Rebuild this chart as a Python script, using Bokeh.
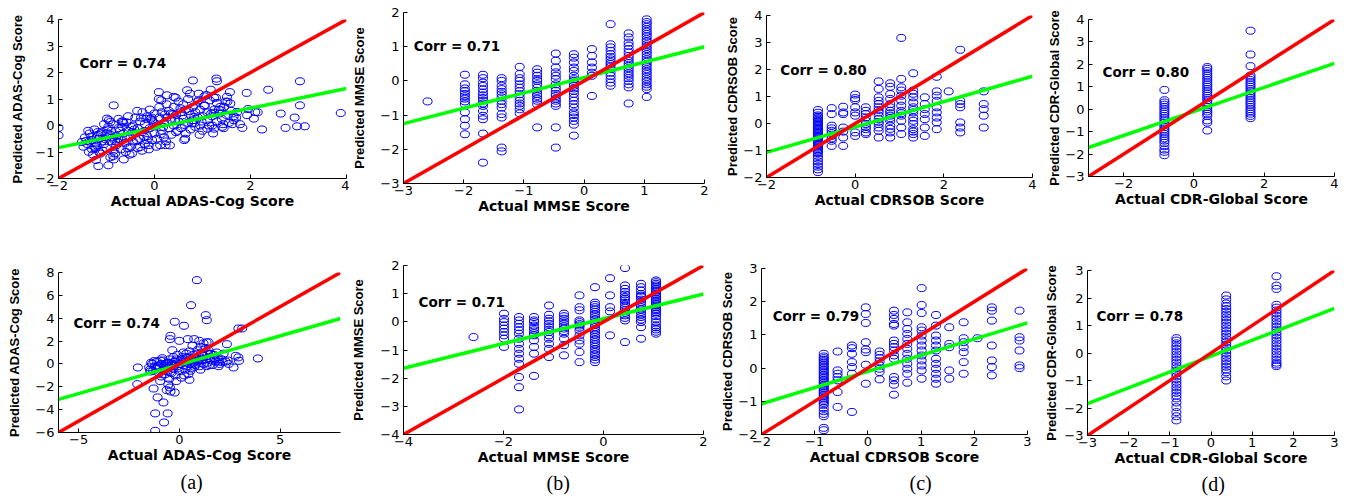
from bokeh.plotting import figure
from bokeh.layouts import column, row
from bokeh.models import FixedTicker, Label, Title
from bokeh.embed import file_html
from bokeh.resources import INLINE

# ---------------- data ----------------
# (a) top: ADAS-Cog
adas1_x = [-2.0, -2.0, 3.88, 3.03, 3.03, 2.97, 3.13, 2.92, 2.73, 2.63, 2.37, 2.24, 1.92, 1.93, 2.07, 2.1, 1.83,
           1.29, 1.3, 0.8, 1.17, 1.57, 1.51, 0.09, 0.09, 0.26, 0.4, 0.12, 0.23, -0.85, -0.99, -0.92, -1.17, -0.96,
           -0.85, -0.64, -0.47, -0.82, -1.37, -1.23, -1.13, -1.51, -0.3, -0.12, 0.68, 0.92, 1.1, 1.24, 1.41, 1.65,
           1.72, 1.58, 1.37,
           -1.45, -1.4, -1.35, -1.3, -1.3, -1.25, -1.2, -1.2, -1.15, -1.1, -1.1, -1.05, -1.0, -1.0, -0.95, -1.35,
           -1.25, -1.15, -1.05, -0.98,
           -0.9, -0.9, -0.85, -0.85, -0.8, -0.8, -0.75, -0.75, -0.7, -0.7, -0.65, -0.65, -0.6, -0.6, -0.55, -0.55,
           -0.5, -0.5, -0.88, -0.72,
           -0.45, -0.45, -0.4, -0.4, -0.35, -0.35, -0.3, -0.3, -0.25, -0.25, -0.2, -0.2, -0.15, -0.15, -0.1, -0.1,
           -0.05, -0.05, 0.0, 0.0,
           0.05, 0.05, 0.1, 0.1, 0.15, 0.15, 0.2, 0.2, 0.25, 0.25, 0.3, 0.3, 0.35, 0.35, 0.4, 0.4, 0.45, 0.45, 0.5, 0.5,
           0.55, 0.55, 0.6, 0.6, 0.65, 0.65, 0.7, 0.7, 0.75, 0.75, 0.8, 0.8, 0.85, 0.85, 0.9, 0.9, 0.95, 0.95, 1.0, 1.0,
           1.05, 1.1, 1.1, 1.15, 1.2, 1.2, 1.25, 1.3, 1.3, 1.35, 1.4, 1.45, 1.5, 1.55, 1.6, 1.65,
           -1.42, -1.32, -1.22, -1.12, -1.02, -0.92, -0.82, -0.62, -0.42, -0.22, -0.02, 0.18, 0.38, 0.58, 0.78, 0.98,
           1.18, 1.38, -0.67, -0.37, -0.17, 0.13, 0.43, 0.63, 0.83, 1.03, 1.23, 1.43, -0.78, -0.58,
           -1.18, -0.98, -0.68, -0.48, -0.28, -0.08, 0.22, 0.48, 0.72, 1.08, 1.28, 1.48, 1.7, 1.78, 1.95, 2.15,
           -1.48, -1.38, -1.28, -1.18, -1.08, -0.96, -0.86, -0.76, -0.66, -0.56, -0.46, -0.36, -0.26, -0.16, -0.06,
           0.04, 0.14, 0.24, 0.34, 0.44, 0.54, 0.64, 0.74, 0.84, 0.94, 1.04, 1.14, 1.24, 1.34, 1.44, -1.22, -0.92,
           -0.52, -0.12, 0.32, 0.62, 0.92, 1.22, 1.52, 1.62]
adas1_y = [-0.09, -0.37, 0.47, 1.67, 0.76, -0.03, -0.03, 0.3, -0.09, 0.45, 1.35, -0.15, 1.23, 0.39, 0.26, 0.51, -0.09,
           1.77, 1.67, 1.7, 1.35, 1.26, 1.08, 1.26, 1.0, 1.14, 1.08, -0.74, -0.74, 0.76, 0.26, 0.13, -1.53, -1.5,
           -1.28, -1.28, -1.06, -1.06, -0.99, -0.87, -1.06, -0.62, -0.81, -0.74, 1.33, 0.95, -0.12, -0.12, -0.05, 0.2,
           0.51, 0.83, 0.7,
           -0.45, -0.7, -0.3, -0.9, -0.55, -0.15, -0.75, -0.4, -1.0, -0.6, -0.25, 0.05, -0.85, -0.45, 0.2, -0.6,
           -0.8, -0.5, -0.7, -0.3,
           -0.6, -0.2, -0.95, 0.05, -0.4, -0.75, -0.1, 0.25, -0.55, -0.9, -0.3, 0.1, -0.65, -1.0, -0.2, 0.35,
           -0.45, -0.8, -0.45, -0.2,
           0.0, -0.6, -0.3, 0.3, -0.85, -0.1, -0.5, 0.15, 0.5, -0.25, -0.7, 0.05, -0.4, 0.35, -0.1, 0.6,
           -0.55, 0.2, -0.3, 0.45,
           0.0, -0.5, 0.3, 0.7, -0.2, 0.5, 0.1, -0.45, 0.8, 0.3, -0.1, 0.55, 0.2, -0.35, 0.7, 0.0, 0.4, -0.25, 0.9, 0.15,
           -0.1, 0.5, 0.25, 0.8, -0.3, 0.6, 0.1, 1.0, 0.4, -0.15, 0.7, 0.2, -0.05, 0.5, 0.9, 0.3, 0.0, 0.6, 0.35, -0.2,
           0.75, 0.2, 0.5, 0.95, 0.35, 0.0, 0.6, 0.85, 0.15, 0.45, 0.25, 0.7, 0.4, 0.1, 0.55, 0.35,
           -0.58, -0.42, -0.68, -0.3, -0.52, -0.35, -0.58, -0.45, -0.15, -0.42, 0.12, -0.05, 0.42, 0.38, 0.08, 0.15,
           0.45, 0.58, -0.05, -0.55, 0.25, -0.32, 0.22, 0.02, 0.32, 0.75, 0.48, 0.05, -0.62, 0.12,
           -0.25, -0.15, 0.15, -0.05, 0.3, 0.25, 0.42, -0.2, 0.55, 1.15, 1.05, 0.9, 0.3, 0.05, 0.62, 0.5,
           -0.8, -0.2, -1.1, -0.35, -0.95, -0.05, -1.15, -0.5, 0.15, -0.85, -0.25, 0.55, -0.95, -0.55, 0.3,
           -0.8, 0.95, -0.6, 0.45, 1.05, 0.65, -0.5, 1.2, 0.1, -0.35, 1.1, 0.0, 1.05, 0.6, -0.1, -1.3, -1.2,
           -1.1, -0.9, -0.75, -0.55, 1.2, -0.3, 0.9, 0.05]

# (a) bottom: ADAS-Cog
adas2_x = [0.87, 0.58, 1.31, 1.36, -0.23, 0.23, -0.44, -0.47, 0.0, 0.42, 0.74, 0.99, 2.36, 2.8, 2.96, 2.93, 2.93,
           3.12, 3.9, 2.69, -2.06, -2.09, -1.28, -1.08, -0.79, -1.2, -0.76, -0.58, -1.2, -0.63, -0.44, -0.23, -0.47,
           0.5, -1.44,
           -1.5, -1.4, -1.3, -1.2, -1.1, -1.0, -1.0, -0.9, -0.9, -0.8, -0.8, -0.7, -0.7, -0.6, -0.6, -0.5, -0.5, -0.5,
           -0.4, -0.4, -0.3, -0.3, -0.2, -0.2, -0.1, -0.1, 0.0, 0.0, 0.1, 0.1, 0.2, 0.2, 0.3, 0.3, 0.4, 0.4, 0.5, 0.5,
           0.6, 0.6, 0.7, 0.7, 0.8, 0.8, 0.9, 0.9, 1.0, 1.0, 1.1, 1.1, 1.2, 1.2, 1.3, 1.3, 1.4, 1.4, 1.5, 1.5, 1.6,
           1.7, 1.8, 1.9, 2.0, 2.1, 2.2, 2.3, 1.65, 0.05, -0.25, 0.35, 0.75, -0.65, 1.05, 1.35, 1.2, 1.45,
           -1.35, -1.15, -0.95, -0.75, -0.55, -0.35, -0.15, 0.15, 0.45, 0.65, 0.85, 1.15, 1.55, 1.75, 1.95, 2.45,
           -1.45, -1.25, -1.05, -0.85, -0.65, -0.45, -0.25, -0.05, 0.15, 0.35, 0.55, 0.75, 0.95, 1.15, 1.35, 1.55,
           1.75, 1.95, 2.15, 2.4, -0.95, -0.55, -0.15, 0.25, 0.65, 1.05, 1.45, 1.85, -0.35, 0.45]
adas2_y = [7.33, 5.14, 4.27, 3.83, 3.69, 3.34, 2.46, 2.17, 2.02, 2.17, 2.17, 2.02, 1.73, 0.71, 0.27, 0.57, 3.1,
           3.1, 0.48, -0.31, -0.31, -1.77, -2.15, -2.93, -3.37, -4.33, -5.12, -4.33, -5.85, -2.29, -2.41, -2.5, -2.06,
           -1.39, -0.66,
           -0.3, 0.1, -0.6, -0.2, 0.2, -0.8, -0.4, 0.0, -1.1, -0.5, 0.3, -0.2, -0.9, 0.1, -0.6, -1.3, -0.3, 0.4,
           0.0, -0.8, -0.4, 0.6, -1.0, 0.2, -0.2, 0.8, 0.0, -0.6, 0.4, -1.2, -0.1, 1.0, 0.2, -0.5, 0.6, -0.2, 0.0, 1.1,
           0.3, -0.4, 0.8, 0.1, -0.1, 0.5, 1.2, 0.2, 0.6, -0.2, 0.3, 1.0, 0.0, 0.7, 1.4, 0.4, 0.1, 0.9, 0.5, -0.1, 0.3,
           0.8, 0.2, 0.6, 0.0, 0.4, 0.9, 0.2, -0.1, 0.3, -0.15, 0.9, 0.45, -0.35, 1.5, 1.9, 1.8, 1.9,
           0.0, -0.4, 0.3, -0.6, 0.1, -0.1, 0.4, 0.6, 0.3, 0.0, 0.9, 0.4, 0.9, 0.4, 0.2, 0.0,
           -0.5, 0.25, -0.15, 0.5, 0.0, -0.7, 0.2, -0.35, 0.15, 0.5, -0.6, -0.25, 0.3, 0.75, -0.2, 0.85,
           0.5, -0.2, 0.15, 0.3, -1.5, -1.8, -1.5, -1.0, 1.6, -0.5, 1.2, 1.0, 1.2, -0.9]

# (b) top: MMSE (columns)
mmse1_cols = [-2.6, -1.98, -1.68, -1.37, -1.07, -0.78, -0.47, -0.17, 0.13, 0.44, 0.74, 1.04]
mmse1_vals = [
    [-0.6],
    [0.18, -0.1, -0.22, -0.3, -0.38, -0.45, -0.52, -0.6, -0.68, -0.92, -1.12, -1.31, -1.56],
    [0.18, 0.08, -0.05, -0.15, -0.25, -0.34, -0.42, -0.5, -0.58, -0.66, -0.73, -0.88, -1.02, -1.12, -1.54, -2.39],
    [0.08, 0.0, -0.14, -0.24, -0.32, -0.39, -0.48, -0.58, -0.68, -0.78, -0.97, -1.07, -1.95, -2.06],
    [0.41, 0.2, 0.08, 0.0, -0.1, -0.2, -0.3, -0.39, -0.49, -0.58, -0.66, -0.73, -0.83, -0.95],
    [0.34, 0.24, 0.15, 0.05, 0.0, -0.1, -0.2, -0.29, -0.38, -0.44, -0.52, -0.58, -0.68, -1.36],
    [0.8, 0.59, 0.39, 0.25, 0.15, 0.05, -0.1, -0.2, -0.29, -0.38, -0.44, -0.52, -0.58, -0.66, -0.73, -1.36, -1.95],
    [0.78, 0.68, 0.54, 0.39, 0.29, 0.15, 0.05, 0.0, -0.08, -0.14, -0.22, -0.29, -0.38, -0.49, -0.58, -0.68, -0.78,
     -0.92, -1.0, -1.07, -1.17, -1.28, -1.6],
    [0.93, 0.73, 0.54, 0.39, 0.24, 0.15, -0.44],
    [1.66, 1.07, 0.98, 0.88, 0.78, 0.7, 0.63, 0.55, 0.49, 0.42, 0.34, 0.24, 0.15, 0.05, -0.05, -0.14],
    [1.39, 1.27, 1.12, 1.03, 0.93, 0.83, 0.73, 0.66, 0.59, 0.52, 0.44, 0.37, 0.29, 0.22, 0.15, 0.08, 0.0, -0.1,
     -0.19, -0.66],
    [1.8, 1.72, 1.66, 1.58, 1.51, 1.44, 1.37, 1.3, 1.22, 1.15, 1.07, 1.0, 0.93, 0.85, 0.78, 0.7, 0.63, 0.56, 0.49,
     0.42, 0.34, 0.27, 0.2, 0.12, 0.05, -0.02, -0.1, -0.17, -0.24, -0.47],
]

# (b) bottom: MMSE (columns)
mmse2_cols = [-2.6, -1.99, -1.69, -1.39, -1.09, -0.79, -0.48, -0.17, 0.13, 0.43, 0.75, 1.05]
mmse2_vals = [
    [-0.54],
    [0.29, 0.1, -0.01, -0.13, -0.24, -0.36, -0.48, -0.6, -0.89],
    [0.17, 0.05, -0.07, -0.19, -0.3, -0.42, -0.6, -0.78, -0.96, -1.13, -1.31, -1.49, -1.96, -2.32, -3.11],
    [0.17, 0.05, -0.01, -0.13, -0.22, -0.3, -0.4, -0.48, -0.66, -0.89, -1.13, -1.92],
    [0.58, 0.25, 0.11, 0.02, -0.07, -0.19, -0.28, -0.36, -0.48, -0.6, -0.78, -0.96, -1.25],
    [0.29, 0.2, 0.11, 0.02, -0.07, -0.16, -0.24, -0.33, -0.42, -0.6, -0.83, -1.19],
    [0.94, 0.52, 0.41, 0.05, -0.01, -0.08, -0.13, -0.2, -0.3, -0.48, -0.66, -0.78, -1.07, -1.43],
    [1.23, 0.68, 0.6, 0.52, 0.44, 0.35, 0.26, 0.17, 0.08, -0.01, -0.1, -0.19, -0.28, -0.36, -0.45, -0.54, -0.63,
     -0.72, -0.8, -0.89, -0.98, -1.07, -1.16, -1.25, -1.34, -1.43],
    [1.55, 0.94, 0.52, 0.37, -0.48],
    [1.91, 1.29, 1.17, 1.06, 0.97, 0.88, 0.82, 0.76, 0.67, 0.58, 0.5, 0.41, 0.32, 0.23, 0.14, 0.05, -0.72],
    [1.35, 1.23, 1.11, 0.99, 0.93, 0.88, 0.79, 0.7, 0.61, 0.52, 0.44, 0.35, 0.26, 0.17, 0.08, -0.01, -0.19, -0.6],
    [1.47, 1.41, 1.35, 1.29, 1.23, 1.17, 1.11, 1.05, 0.99, 0.93, 0.88, 0.82, 0.76, 0.7, 0.64, 0.58, 0.52, 0.46,
     0.41, 0.35, 0.29, 0.2, 0.11, -0.01, -0.13, -0.2, -0.27, -0.35, -0.42],
]

# (c) top: CDRSOB (columns)
cdrsob1_cols = [-0.84, -0.53, -0.27, 0.0, 0.24, 0.53, 0.79, 1.04, 1.31, 1.57, 1.84, 2.11, 2.37, 2.9]
cdrsob1_vals = [
    [0.5, 0.4, 0.3, 0.25, 0.2, 0.15, 0.1, 0.05, 0.0, -0.05, -0.1, -0.15, -0.2, -0.25, -0.3, -0.35, -0.4, -0.45,
     -0.5, -0.55, -0.6, -0.65, -0.7, -0.75, -0.8, -0.85, -0.9, -0.95, -1.0, -1.05, -1.1, -1.2, -1.3, -1.4, -1.5,
     -1.6, -1.7, -1.8],
    [0.57, 0.35, -0.08, -0.18, -0.27, -0.36, -0.46, -0.55, -0.64, -0.83],
    [0.62, 0.41, 0.35, -0.15, -0.3, -0.52, -0.83],
    [1.07, 0.94, 0.87, 0.6, 0.41, 0.29, -0.33, -0.46],
    [0.6, 0.47, 0.35, 0.22, 0.1, -0.02, -0.12, -0.21, -0.33, -0.39],
    [1.56, 1.28, 0.97, 0.84, 0.72, 0.6, 0.5, 0.41, 0.29, 0.16, 0.06, -0.02, -0.15, -0.27, -0.52],
    [1.49, 1.36, 1.09, 0.91, 0.72, 0.6, 0.47, 0.38, 0.29, 0.2, 0.1, -0.08, -0.2, -0.33, -0.52],
    [3.17, 1.65, 1.34, 1.22, 1.03, 0.84, 0.66, 0.47, 0.38, 0.29, 0.1, -0.15, -0.39],
    [1.86, 1.22, 1.1, 0.97, 0.78, 0.6, 0.5, 0.41, 0.22, 0.1, -0.02, -0.21, -0.3, -0.39, -0.52],
    [0.97, 0.72, 0.53, 0.35, 0.16, -0.15, -0.46],
    [1.73, 1.19, 1.03, 0.84, 0.6, 0.41, 0.22, 0.04, -0.21],
    [1.19],
    [2.73, 0.84, 0.72, 0.6, 0.04, -0.15, -0.33],
    [1.19, 0.72, 0.53, 0.29, -0.15],
]

# (c) bottom: CDRSOB (columns)
cdrsob2_cols = [-0.83, -0.57, -0.3, -0.04, 0.22, 0.49, 0.74, 1.01, 1.28, 1.53, 1.8, 2.06, 2.33, 2.85]
cdrsob2_vals = [
    [0.43, 0.35, 0.3, 0.25, 0.2, 0.15, 0.1, 0.05, 0.0, -0.05, -0.1, -0.15, -0.2, -0.25, -0.3, -0.35, -0.4, -0.45,
     -0.5, -0.55, -0.6, -0.65, -0.7, -0.75, -0.8, -0.85, -0.9, -0.95, -1.0, -1.05, -1.1, -1.2, -1.3, -1.38, -1.45,
     -1.8, -1.87],
    [0.5, -0.07, -0.17, -0.27, -0.37, -0.72, -1.17],
    [0.68, 0.6, 0.43, 0.18, 0.03, -0.17, -1.32],
    [1.83, 1.63, 1.36, 0.78, 0.56, 0.48, 0.1, -0.47],
    [0.5, 0.4, 0.3, 0.2, 0.08, -0.02, -0.12, -0.34],
    [1.73, 1.6, 1.48, 1.33, 1.28, 0.83, 0.73, 0.63, 0.53, 0.38, 0.28, -0.27, -0.37, -0.5, -0.8],
    [1.68, 1.38, 1.18, 1.03, 0.88, 0.73, 0.58, 0.43, 0.28, 0.13, -0.02, -0.17, -0.44],
    [2.41, 1.9, 1.66, 1.23, 1.13, 0.98, 0.83, 0.68, 0.53, 0.38, 0.23, 0.08, -0.07, -0.32],
    [1.6, 1.28, 0.98, 0.83, 0.68, 0.53, 0.28, 0.13, -0.02, -0.17, -0.32, -0.47],
    [1.23, 0.73, 0.63, -0.07, -0.32],
    [1.38, 0.9, 0.78, 0.63, 0.48, 0.18, -0.17],
    [0.9],
    [1.83, 1.73, 1.43, 0.68, 0.23, 0.03, -0.22],
    [1.73, 0.93, 0.83, 0.53, 0.08, 0.0],
]

# (d) top: CDR-Global (columns)
cdrg1_cols = [-0.84, 0.38, 1.61]
cdrg1_vals = [
    [0.86, 0.4, 0.3, 0.2, 0.1, 0.0, -0.1, -0.2, -0.3, -0.4, -0.5, -0.6, -0.7, -0.8, -0.9, -1.0, -1.1, -1.2, -1.3,
     -1.4, -1.5, -1.65, -1.8, -1.9, -2.05],
    [1.88, 1.8, 1.7, 1.6, 1.5, 1.4, 1.3, 1.2, 1.1, 1.0, 0.9, 0.8, 0.7, 0.6, 0.5, 0.4, 0.3, 0.2, 0.1, 0.0, -0.1,
     -0.2, -0.3, -0.5, -0.6, -0.95],
    [3.5, 2.44, 1.92, 1.5, 1.4, 1.3, 1.2, 1.1, 1.0, 0.9, 0.8, 0.7, 0.6, 0.5, 0.4, 0.3, 0.2, 0.1, 0.0, -0.1, -0.2,
     -0.3, -0.4],
]

# (d) bottom: CDR-Global (columns)
cdrg2_cols = [-0.84, 0.37, 1.59]
cdrg2_vals = [
    [0.54, 0.45, 0.35, 0.25, 0.15, 0.05, -0.05, -0.15, -0.25, -0.35, -0.45, -0.55, -0.65, -0.75, -0.85, -0.95,
     -1.05, -1.15, -1.25, -1.35, -1.45, -1.55, -1.65, -1.8, -1.97, -2.15, -2.3, -2.45],
    [2.09, 1.95, 1.8, 1.7, 1.6, 1.5, 1.4, 1.3, 1.2, 1.1, 1.0, 0.9, 0.8, 0.7, 0.6, 0.5, 0.4, 0.3, 0.2, 0.1, 0.0,
     -0.1, -0.2, -0.3, -0.4, -0.5, -0.6, -0.7, -0.85, -1.0],
    [2.79, 2.45, 2.33, 1.75, 1.65, 1.55, 1.45, 1.35, 1.25, 1.15, 1.05, 0.95, 0.85, 0.75, 0.65, 0.55, 0.45, 0.35,
     0.25, 0.15, 0.05, -0.05, -0.15, -0.25, -0.35, -0.42, -0.48],
]

# correlations and least-squares fit lines (slope, intercept)
corr_labels = ["Corr = 0.74", "Corr = 0.71", "Corr = 0.80", "Corr = 0.80",
               "Corr = 0.74", "Corr = 0.71", "Corr = 0.79", "Corr = 0.78"]
fit_slope = [0.372, 0.45, 0.47, 0.536, 0.505, 0.44, 0.488, 0.577]
fit_intercept = [-0.09, 0.1, -0.13, -0.1, -0.07, 0.11, -0.1, -0.11]

x_labels = ["Actual ADAS-Cog Score", "Actual MMSE Score", "Actual CDRSOB Score", "Actual CDR-Global Score"] * 2
y_labels = ["Predicted ADAS-Cog Score", "Predicted MMSE Score", "Predicted CDRSOB Score",
            "Predicted CDR-Global Score"] * 2
panel_letters = ["(a)", "(b)", "(c)", "(d)"]


def expand(cols, vals):
    xs, ys = [], []
    for c, v in zip(cols, vals):
        xs += [c] * len(v)
        ys += v
    return xs, ys


points = [
    (adas1_x, adas1_y),
    expand(mmse1_cols, mmse1_vals),
    expand(cdrsob1_cols, cdrsob1_vals),
    expand(cdrg1_cols, cdrg1_vals),
    (adas2_x, adas2_y),
    expand(mmse2_cols, mmse2_vals),
    expand(cdrsob2_cols, cdrsob2_vals),
    expand(cdrg2_cols, cdrg2_vals),
]

# ---------------- layout / style ----------------
# r: axis range; xt/yt: ticks; fw/fh: frame size; b: borders (left, right, top, bottom);
# ys: y-axis-title standoff; cp: corr text position (data); lo/ls: letter offset from frame left / standoff
cfg = [
    dict(r=(-2, 4), xt=[-2, 0, 2, 4], yt=[-2, -1, 0, 1, 2, 3, 4], fw=288, fh=159, b=(58, 3, 19, 50), ys=7,
         cp=(-1.56, 2.34)),
    dict(r=(-3, 2), xt=[-3, -2, -1, 0, 1, 2], yt=[-3, -2, -1, 0, 1, 2], fw=301, fh=171, b=(53, 18, 12, 45), ys=10,
         cp=(-2.83, 1.03)),
    dict(r=(-2, 4), xt=[-2, 0, 2, 4], yt=[-2, -1, 0, 1, 2, 3, 4], fw=266, fh=162, b=(43, 12, 15, 51), ys=0,
         cp=(-1.69, 2.0)),
    dict(r=(-3, 4), xt=[-2, 0, 2, 4], yt=[-3, -2, -1, 0, 1, 2, 3, 4], fw=246, fh=157, b=(41, 12, 19, 52), ys=0,
         cp=(-2.6, 1.68)),
    dict(r=(-6, 8), xt=[-5, 0, 5], yt=[-6, -4, -2, 0, 2, 4, 6, 8], fw=282, fh=160, b=(58, 8, 44, 66), ys=10,
         cp=(-5.26, 3.54), lo=122, ls=7),
    dict(r=(-4, 2), xt=[-4, -2, 0, 2], yt=[-4, -3, -2, -1, 0, 1, 2], fw=300, fh=169, b=(54, 14, 37, 64), ys=11,
         cp=(-3.7, 0.72), lo=143, ls=5),
    dict(r=(-2, 3), xt=[-2, -1, 0, 1, 2, 3], yt=[-2, -1, 0, 1, 2, 3], fw=266, fh=166, b=(43, 14, 40, 64), ys=0,
         cp=(-1.79, 1.58), lo=148, ls=5),
    dict(r=(-3, 3), xt=[-3, -2, -1, 0, 1, 2, 3], yt=[-3, -2, -1, 0, 1, 2, 3], fw=247, fh=165, b=(45, 11, 42, 63),
         ys=2, cp=(-2.78, 1.36), lo=114, ls=5),
]

TICK_FONT = "DejaVu Sans"
XLAB_FONT = "DejaVu Sans"
YLAB_FONT = "Liberation Sans"


def make_panel(i):
    c = cfg[i]
    lo, hi = c["r"]
    l, r, t, b = c["b"]
    p = figure(x_range=(lo, hi), y_range=(lo, hi), frame_width=c["fw"], frame_height=c["fh"],
               min_border_left=l, min_border_right=r, min_border_top=t, min_border_bottom=b,
               output_backend="svg", toolbar_location=None, background_fill_color="white",
               border_fill_color="white")
    p.outline_line_color = None
    p.xgrid.visible = False
    p.ygrid.visible = False

    for ax in (p.xaxis[0], p.yaxis[0]):
        ax.axis_line_color = "black"
        ax.axis_line_width = 1
        ax.major_tick_in = 4
        ax.major_tick_out = 0
        ax.minor_tick_in = 0
        ax.minor_tick_out = 0
        ax.major_tick_line_color = "black"
        ax.major_label_text_font = TICK_FONT
        ax.major_label_text_font_size = "13px"
        ax.major_label_text_color = "black"
        ax.axis_label_text_color = "black"
        ax.axis_label_text_font_style = "bold"
    p.xaxis[0].ticker = FixedTicker(ticks=c["xt"])
    p.yaxis[0].ticker = FixedTicker(ticks=c["yt"])
    p.xaxis[0].axis_label = x_labels[i]
    p.xaxis[0].axis_label_text_font = XLAB_FONT
    p.xaxis[0].axis_label_text_font_size = "14px"
    p.xaxis[0].axis_label_standoff = 0
    p.xaxis[0].major_label_standoff = 2
    p.yaxis[0].axis_label = y_labels[i]
    p.yaxis[0].axis_label_text_font = YLAB_FONT
    p.yaxis[0].axis_label_text_font_size = "13px"
    p.yaxis[0].axis_label_standoff = c["ys"]
    p.yaxis[0].major_label_standoff = 4

    xs, ys = points[i]
    p.ellipse(x=xs, y=ys, width=9, height=7, width_units="screen", height_units="screen",
              fill_color=None, line_color="#0000ff", line_width=1)

    k, d = fit_slope[i], fit_intercept[i]
    p.line(x=[lo, hi], y=[k * lo + d, k * hi + d], line_color="#00ff00", line_width=3.5)
    p.line(x=[lo, hi], y=[lo, hi], line_color="#ff0000", line_width=3.5)

    p.add_layout(Label(x=c["cp"][0], y=c["cp"][1], text=corr_labels[i], text_font=XLAB_FONT,
                       text_font_size="13.5px", text_font_style="bold", text_color="black",
                       text_baseline="middle", text_align="left"))
    if "lo" in c:
        p.add_layout(Title(text=panel_letters[i - 4], align="left", offset=c["lo"], standoff=c["ls"],
                           text_font="Liberation Serif", text_font_size="20px", text_font_style="normal",
                           text_color="black"), "below")
    return p


figs = [make_panel(i) for i in range(8)]
# each figure sits in its own column so that the rows do not align the plot frames
top = row(*[column(f, spacing=0) for f in figs[:4]], spacing=0)
bottom = row(*[column(f, spacing=0) for f in figs[4:]], spacing=0)
layout = column(top, bottom, spacing=0)

open("out.html", "w").write(file_html(layout, INLINE))
